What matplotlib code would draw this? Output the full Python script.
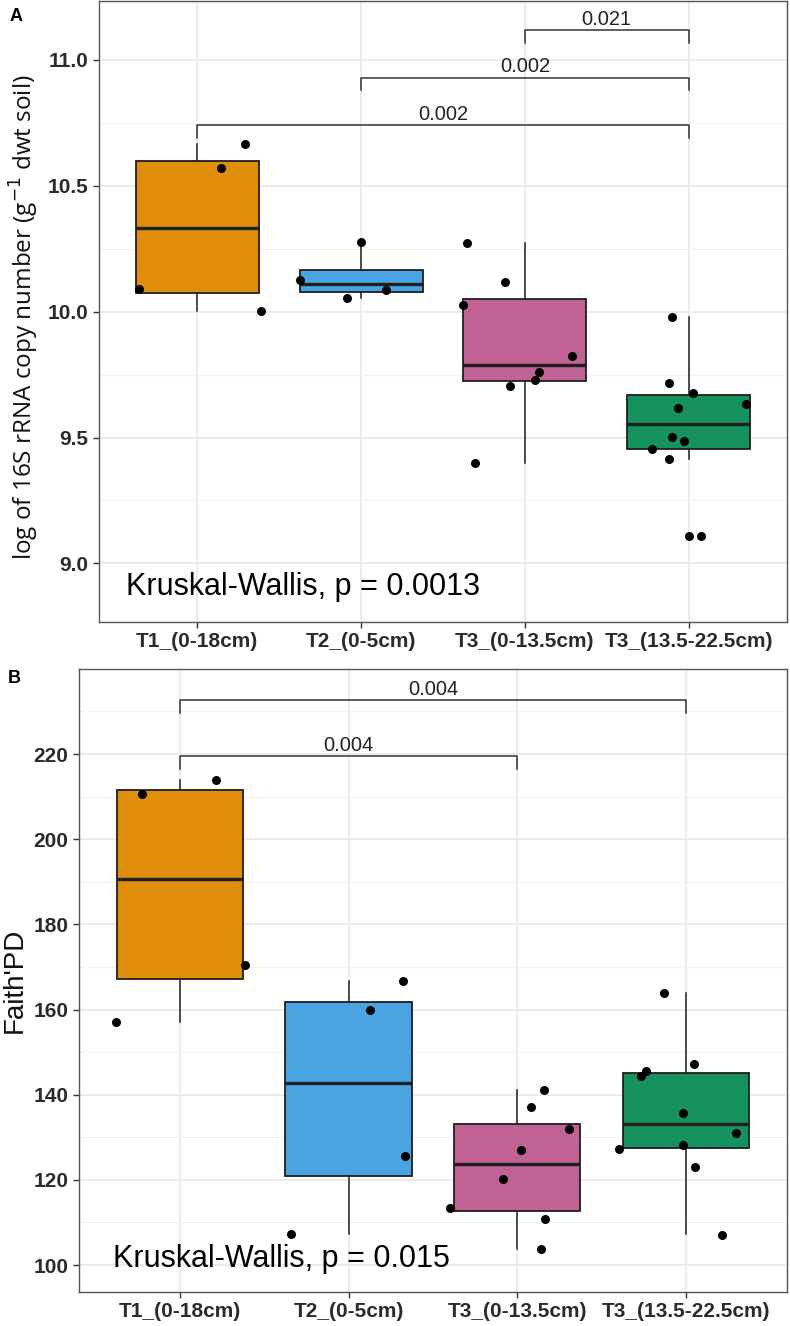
import matplotlib.pyplot as plt
from matplotlib.ticker import MultipleLocator

groups = ['T1_(0-18cm)', 'T2_(0-5cm)', 'T3_(0-13.5cm)', 'T3_(13.5-22.5cm)']
colors = ['#E08D0B', '#4BA4E2', '#C06293', '#16925F']

# panel A: log 16S rRNA copy number, box summary
a_q1 = [10.074, 10.078, 9.725, 9.456]
a_med = [10.332, 10.110, 9.790, 9.555]
a_q3 = [10.598, 10.164, 10.049, 9.667]
a_lo = [10.004, 10.053, 9.400, 9.415]
a_hi = [10.667, 10.275, 10.271, 9.977]

# jittered samples (value, horizontal offset from group centre)
a_vals = [
    [10.09, 10.57, 10.667, 10.004],
    [10.127, 10.053, 10.275, 10.086],
    [10.271, 10.119, 10.025, 9.822, 9.76, 9.729, 9.705, 9.40],
    [9.977, 9.717, 9.678, 9.632, 9.616, 9.504, 9.485, 9.456, 9.415, 9.107, 9.107],
]
a_dx = [
    [-0.354, 0.147, 0.293, 0.391],
    [-0.37, -0.086, 0.0, 0.153],
    [-0.354, -0.122, -0.379, 0.287, 0.086, 0.061, -0.092, -0.305],
    [-0.104, -0.122, 0.024, 0.348, -0.067, -0.104, -0.031, -0.226, -0.122, 0.0, 0.073],
]
a_pairs = [(0, 3), (1, 3), (2, 3)]
a_pvals = ['0.002', '0.002', '0.021']
a_kw = 'Kruskal-Wallis, p = 0.0013'

# panel B: Faith's PD
b_q1 = [167.2, 121.0, 112.8, 127.5]
b_med = [190.6, 142.8, 123.7, 133.2]
b_q3 = [211.6, 161.75, 133.1, 145.2]
b_lo = [157.1, 107.3, 103.8, 107.2]
b_hi = [213.9, 166.7, 141.2, 163.9]

b_vals = [
    [210.7, 213.9, 170.4, 157.1],
    [160.0, 166.7, 125.5, 107.3],
    [141.2, 137.1, 131.9, 126.9, 120.2, 113.4, 110.7, 103.7],
    [163.9, 147.2, 145.6, 144.3, 135.6, 131.1, 127.3, 128.2, 122.9, 107.0],
]
b_dx = [
    [-0.227, 0.215, 0.385, -0.379],
    [0.126, 0.32, 0.335, -0.342],
    [0.16, 0.081, 0.306, 0.021, -0.085, -0.4, 0.164, 0.138],
    [-0.13, 0.046, -0.237, -0.267, -0.018, 0.298, -0.399, -0.014, 0.055, 0.215],
]
b_pairs = [(0, 2), (0, 3)]
b_pvals = ['0.004', '0.004']
b_kw = 'Kruskal-Wallis, p = 0.015'

FONT = 'Liberation Sans'


def draw_panel(ax, q1, med, q3, lo, hi, vals, dx, pairs, pvals, br_y, tick, kw, kw_pos, ylim):
    stats = []
    for i in range(len(groups)):
        stats.append({'q1': q1[i], 'med': med[i], 'q3': q3[i],
                      'whislo': lo[i], 'whishi': hi[i], 'fliers': []})
    bp = ax.bxp(stats, positions=range(len(groups)), widths=0.75,
                patch_artist=True, showcaps=False, showfliers=False,
                boxprops=dict(edgecolor='#1f1f1f', linewidth=1.3),
                medianprops=dict(color='#1f1f1f', linewidth=2.4),
                whiskerprops=dict(color='#1f1f1f', linewidth=1.1))
    for patch, c in zip(bp['boxes'], colors):
        patch.set_facecolor(c)
        patch.set_zorder(2)

    # jittered points
    for i in range(len(groups)):
        xs = [i + d for d in dx[i]]
        ax.scatter(xs, vals[i], s=42, color='black', zorder=4, linewidths=0)

    # significance brackets
    for (g1, g2), p, y in zip(pairs, pvals, br_y):
        ax.plot([g1, g1, g2, g2], [y - tick, y, y, y - tick],
                color='#333333', linewidth=1.1, zorder=3)
        ax.annotate(p, xy=((g1 + g2) / 2, y), xytext=(0, 1),
                    textcoords='offset points', ha='center', va='bottom',
                    fontsize=14.5, family=FONT, color='#222222')

    ax.text(kw_pos[0], kw_pos[1], kw, fontsize=22, family=FONT,
            ha='left', va='baseline', color='black')

    ax.set_xlim(-0.6, 3.6)
    ax.set_ylim(*ylim)
    ax.set_xticks(range(len(groups)))
    ax.set_xticklabels(groups)
    ax.grid(True, which='major', color='#EBEBEB', linewidth=1.4, zorder=0)
    ax.grid(True, which='minor', axis='y', color='#F3F3F3', linewidth=0.9, zorder=0)
    ax.set_axisbelow(True)
    ax.tick_params(which='major', length=4.5, width=1, color='#333333', pad=3)
    ax.tick_params(which='minor', length=0)
    for lab in ax.get_xticklabels() + ax.get_yticklabels():
        lab.set_family(FONT)
        lab.set_fontweight('bold')
        lab.set_fontsize(15)
        lab.set_color('#2b2b2b')
    for s in ax.spines.values():
        s.set_color('#555555')
        s.set_linewidth(1.0)


fig = plt.figure(figsize=(7.9, 13.26), dpi=100)

axA = fig.add_axes([0.1253, 0.5309, 0.8709, 0.4683])
axA.yaxis.set_major_locator(MultipleLocator(0.5))
axA.yaxis.set_minor_locator(MultipleLocator(0.25))
axA.yaxis.set_major_formatter(plt.FormatStrFormatter('%.1f'))
draw_panel(axA, a_q1, a_med, a_q3, a_lo, a_hi, a_vals, a_dx, a_pairs, a_pvals,
           [10.74, 10.93, 11.118], 0.05, a_kw, (-0.434, 8.875), (8.767, 11.234))
axA.set_ylabel('log of 16S rRNA copy number (g$^{-1}$ dwt soil)',
               family='Open Sans', fontsize=17.5, color='#111111')
axA.yaxis.set_label_coords(-0.084, 0.49)

axB = fig.add_axes([0.1, 0.02564, 0.8962, 0.4698])
axB.yaxis.set_major_locator(MultipleLocator(20))
axB.yaxis.set_minor_locator(MultipleLocator(10))
draw_panel(axB, b_q1, b_med, b_q3, b_lo, b_hi, b_vals, b_dx, b_pairs, b_pvals,
           [219.5, 232.7], 3.0, b_kw, (-0.397, 99.6), (93.66, 239.96))
axB.set_ylabel("Faith'PD", family=FONT, fontsize=20, color='#111111')
axB.yaxis.set_label_coords(-0.072, 0.5)

fig.text(10 / 790, 1 - 21 / 1326, 'A', fontsize=13, fontweight='bold', family=FONT)
fig.text(8 / 790, 1 - 683 / 1326, 'B', fontsize=13, fontweight='bold', family=FONT)

fig.savefig('out.png', dpi=100)
